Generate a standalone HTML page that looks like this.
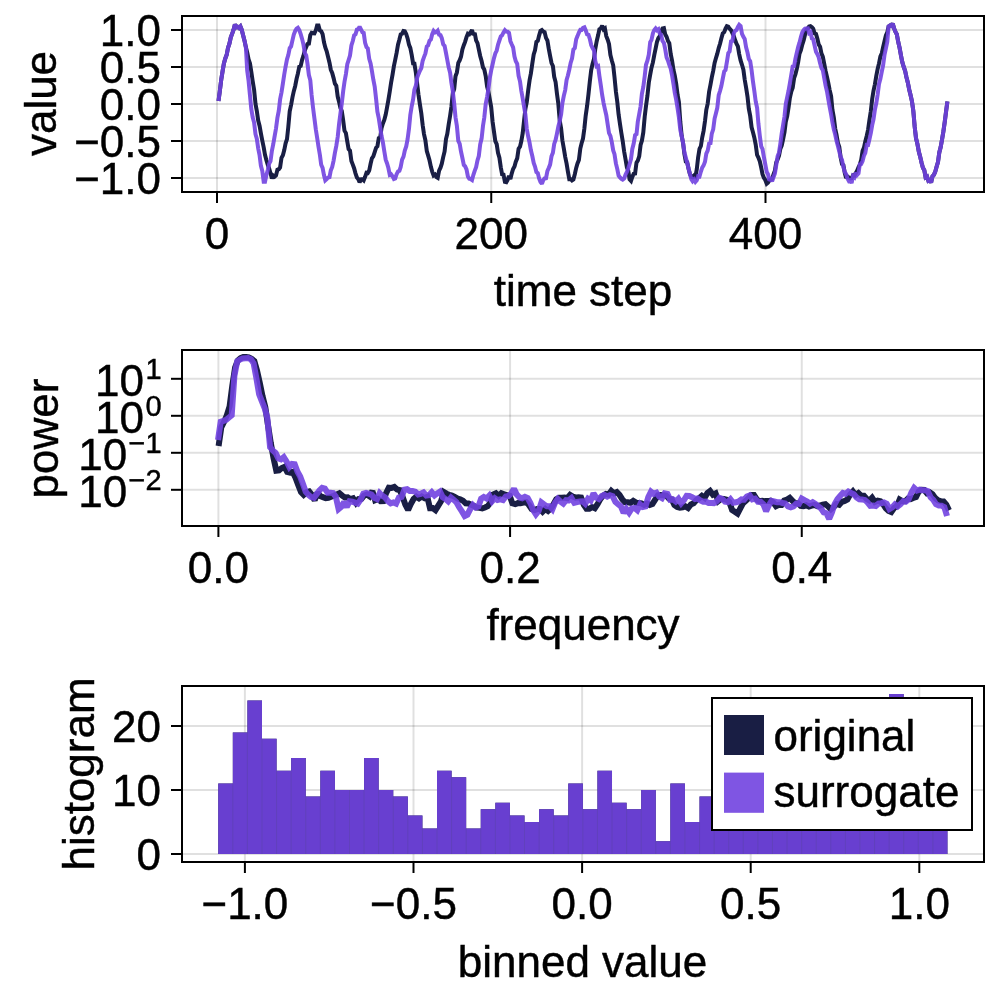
<!DOCTYPE html>
<html><head><meta charset="utf-8"><title>surrogate plot</title>
<style>html,body{margin:0;padding:0;background:#fff}svg{display:block}text{stroke:#000;stroke-width:.45px}</style></head>
<body>
<svg width="1000" height="1000" viewBox="0 0 1000 1000" font-family='"Liberation Sans", sans-serif' fill="#000">
<rect width="1000" height="1000" fill="#fff"/>
<line x1="217" y1="16" x2="217" y2="192" stroke="#000" stroke-opacity="0.12" stroke-width="2"/>
<line x1="491.25" y1="16" x2="491.25" y2="192" stroke="#000" stroke-opacity="0.12" stroke-width="2"/>
<line x1="765.5" y1="16" x2="765.5" y2="192" stroke="#000" stroke-opacity="0.12" stroke-width="2"/>
<line x1="182" y1="30" x2="984" y2="30" stroke="#000" stroke-opacity="0.12" stroke-width="2"/>
<line x1="182" y1="67" x2="984" y2="67" stroke="#000" stroke-opacity="0.12" stroke-width="2"/>
<line x1="182" y1="104" x2="984" y2="104" stroke="#000" stroke-opacity="0.12" stroke-width="2"/>
<line x1="182" y1="141" x2="984" y2="141" stroke="#000" stroke-opacity="0.12" stroke-width="2"/>
<line x1="182" y1="178" x2="984" y2="178" stroke="#000" stroke-opacity="0.12" stroke-width="2"/>
<path d="M218.5,101.1 L219.8,91.2 L221.2,79.9 L222.6,71.1 L223.9,63.4 L225.3,58.5 L226.7,54.8 L228.0,47.9 L229.4,43.6 L230.8,37.4 L232.2,33.6 L233.5,29.9 L234.9,24.4 L236.3,27.4 L237.6,26.8 L239.0,28.0 L240.4,26.5 L241.7,29.7 L243.1,35.2 L244.5,40.7 L245.9,47.3 L247.2,52.4 L248.6,59.3 L250.0,63.4 L251.3,71.8 L252.7,81.2 L254.1,89.8 L255.5,103.9 L256.8,110.8 L258.2,120.6 L259.6,125.9 L260.9,133.4 L262.3,140.7 L263.7,147.3 L265.0,154.8 L266.4,160.3 L267.8,164.8 L269.2,168.7 L270.5,173.2 L271.9,178.5 L273.3,175.6 L274.6,176.7 L276.0,175.4 L277.4,169.7 L278.8,169.2 L280.1,167.5 L281.5,157.8 L282.9,155.3 L284.2,150.3 L285.6,143.3 L287.0,139.1 L288.3,126.9 L289.7,111.3 L291.1,104.8 L292.5,97.2 L293.8,91.1 L295.2,86.0 L296.6,78.8 L297.9,73.5 L299.3,66.7 L300.7,66.0 L302.1,59.8 L303.4,56.0 L304.8,50.5 L306.2,47.1 L307.5,44.0 L308.9,43.6 L310.3,35.1 L311.6,32.8 L313.0,33.2 L314.4,33.3 L315.8,30.4 L317.1,25.6 L318.5,25.6 L319.9,30.5 L321.2,31.2 L322.6,34.2 L324.0,42.3 L325.3,47.5 L326.7,51.3 L328.1,57.0 L329.5,62.7 L330.8,69.7 L332.2,73.0 L333.6,78.1 L334.9,83.6 L336.3,85.8 L337.7,96.6 L339.1,102.1 L340.4,107.8 L341.8,111.1 L343.2,120.6 L344.5,130.7 L345.9,133.1 L347.3,141.6 L348.6,149.1 L350.0,150.7 L351.4,161.1 L352.8,164.6 L354.1,168.2 L355.5,173.3 L356.9,177.4 L358.2,179.0 L359.6,182.3 L361.0,179.4 L362.4,179.2 L363.7,180.4 L365.1,176.8 L366.5,172.8 L367.8,173.0 L369.2,170.6 L370.6,163.8 L371.9,158.3 L373.3,156.4 L374.7,152.2 L376.1,147.7 L377.4,146.4 L378.8,138.2 L380.2,137.5 L381.5,128.2 L382.9,123.5 L384.3,120.0 L385.7,114.6 L387.0,107.7 L388.4,99.8 L389.8,91.2 L391.1,82.6 L392.5,74.9 L393.9,66.2 L395.2,59.9 L396.6,52.9 L398.0,44.7 L399.4,39.6 L400.7,34.4 L402.1,33.7 L403.5,31.0 L404.8,31.2 L406.2,34.0 L407.6,38.4 L409.0,44.7 L410.3,47.9 L411.7,54.9 L413.1,63.4 L414.4,63.6 L415.8,72.2 L417.2,84.0 L418.5,94.7 L419.9,104.4 L421.3,113.2 L422.7,125.2 L424.0,134.1 L425.4,140.4 L426.8,151.0 L428.1,155.4 L429.5,160.3 L430.9,166.9 L432.2,171.6 L433.6,175.5 L435.0,174.6 L436.4,177.0 L437.7,177.8 L439.1,170.6 L440.5,167.7 L441.8,163.7 L443.2,157.1 L444.6,151.4 L446.0,139.1 L447.3,133.8 L448.7,124.3 L450.1,115.7 L451.4,106.8 L452.8,93.1 L454.2,89.0 L455.5,76.2 L456.9,72.4 L458.3,62.9 L459.7,60.3 L461.0,56.8 L462.4,49.4 L463.8,45.2 L465.1,41.9 L466.5,37.1 L467.9,33.7 L469.3,34.3 L470.6,32.3 L472.0,30.0 L473.4,35.0 L474.7,32.9 L476.1,40.4 L477.5,43.2 L478.8,49.3 L480.2,56.0 L481.6,61.0 L483.0,67.4 L484.3,69.5 L485.7,76.0 L487.1,86.6 L488.4,91.5 L489.8,99.3 L491.2,107.1 L492.6,121.8 L493.9,131.1 L495.3,141.1 L496.7,144.1 L498.0,152.7 L499.4,157.6 L500.8,167.3 L502.1,174.3 L503.5,174.6 L504.9,181.9 L506.3,182.2 L507.6,179.9 L509.0,175.9 L510.4,179.1 L511.7,173.6 L513.1,169.0 L514.5,166.5 L515.8,161.7 L517.2,158.4 L518.6,148.7 L520.0,146.7 L521.3,141.3 L522.7,133.1 L524.1,120.2 L525.4,108.8 L526.8,102.0 L528.2,90.3 L529.6,80.2 L530.9,73.4 L532.3,63.6 L533.7,54.5 L535.0,50.3 L536.4,41.9 L537.8,40.9 L539.1,35.6 L540.5,30.8 L541.9,30.0 L543.3,31.5 L544.6,32.1 L546.0,37.9 L547.4,40.5 L548.7,48.4 L550.1,55.8 L551.5,63.0 L552.9,66.0 L554.2,76.8 L555.6,82.1 L557.0,94.0 L558.3,103.5 L559.7,120.3 L561.1,128.4 L562.4,140.5 L563.8,148.4 L565.2,156.8 L566.6,163.6 L567.9,171.6 L569.3,179.2 L570.7,179.2 L572.0,180.5 L573.4,179.6 L574.8,174.3 L576.2,167.9 L577.5,163.5 L578.9,159.9 L580.3,148.5 L581.6,143.2 L583.0,138.5 L584.4,128.2 L585.7,115.6 L587.1,105.9 L588.5,94.1 L589.9,80.8 L591.2,70.1 L592.6,63.7 L594.0,58.8 L595.3,48.8 L596.7,41.2 L598.1,35.3 L599.4,29.2 L600.8,28.4 L602.2,25.6 L603.6,29.3 L604.9,28.4 L606.3,36.1 L607.7,39.7 L609.0,44.0 L610.4,55.0 L611.8,60.5 L613.2,65.3 L614.5,77.1 L615.9,91.5 L617.3,102.1 L618.6,114.4 L620.0,124.1 L621.4,133.2 L622.7,141.1 L624.1,151.3 L625.5,159.2 L626.9,167.4 L628.2,170.6 L629.6,179.4 L631.0,180.9 L632.3,176.8 L633.7,173.8 L635.1,173.6 L636.5,162.6 L637.8,160.6 L639.2,156.4 L640.6,145.0 L641.9,140.7 L643.3,132.4 L644.7,116.8 L646.0,106.0 L647.4,96.1 L648.8,82.7 L650.2,74.6 L651.5,67.7 L652.9,62.4 L654.3,54.8 L655.6,48.6 L657.0,41.7 L658.4,38.0 L659.8,36.1 L661.1,31.7 L662.5,28.4 L663.9,28.1 L665.2,34.2 L666.6,36.7 L668.0,41.0 L669.3,43.1 L670.7,54.0 L672.1,60.9 L673.5,70.0 L674.8,75.6 L676.2,83.7 L677.6,94.9 L678.9,102.1 L680.3,121.8 L681.7,135.9 L683.1,143.2 L684.4,154.0 L685.8,161.5 L687.2,162.1 L688.5,168.5 L689.9,174.1 L691.3,176.8 L692.6,177.2 L694.0,175.7 L695.4,176.6 L696.8,169.1 L698.1,157.5 L699.5,148.9 L700.9,146.0 L702.2,137.5 L703.6,130.9 L705.0,121.1 L706.3,109.9 L707.7,103.6 L709.1,91.7 L710.5,84.6 L711.8,77.3 L713.2,70.9 L714.6,62.9 L715.9,58.3 L717.3,53.7 L718.7,48.1 L720.1,43.5 L721.4,38.2 L722.8,33.4 L724.2,32.1 L725.5,28.7 L726.9,26.2 L728.3,26.6 L729.6,28.7 L731.0,30.2 L732.4,33.2 L733.8,36.0 L735.1,40.0 L736.5,43.7 L737.9,46.3 L739.2,54.1 L740.6,60.4 L742.0,64.8 L743.4,69.7 L744.7,79.5 L746.1,87.6 L747.5,96.6 L748.8,108.7 L750.2,115.9 L751.6,127.3 L752.9,132.0 L754.3,137.4 L755.7,144.5 L757.1,154.9 L758.4,157.5 L759.8,161.4 L761.2,167.5 L762.5,174.2 L763.9,177.9 L765.3,180.0 L766.7,183.7 L768.0,182.6 L769.4,180.5 L770.8,179.7 L772.1,178.9 L773.5,174.4 L774.9,170.6 L776.2,162.6 L777.6,159.4 L779.0,155.7 L780.4,148.7 L781.7,145.6 L783.1,139.2 L784.5,132.3 L785.8,121.8 L787.2,116.2 L788.6,107.2 L789.9,97.7 L791.3,91.5 L792.7,87.8 L794.1,78.1 L795.4,74.3 L796.8,68.9 L798.2,61.8 L799.5,53.8 L800.9,50.1 L802.3,44.5 L803.7,40.3 L805.0,34.8 L806.4,29.6 L807.8,28.3 L809.1,26.5 L810.5,26.1 L811.9,27.1 L813.2,28.8 L814.6,33.3 L816.0,33.9 L817.4,38.8 L818.7,44.4 L820.1,46.8 L821.5,53.6 L822.8,56.6 L824.2,63.6 L825.6,70.9 L827.0,77.0 L828.3,82.9 L829.7,90.1 L831.1,96.0 L832.4,109.6 L833.8,117.2 L835.2,128.6 L836.5,134.6 L837.9,142.9 L839.3,146.9 L840.7,157.7 L842.0,164.2 L843.4,165.2 L844.8,173.0 L846.1,178.0 L847.5,176.5 L848.9,177.6 L850.3,178.5 L851.6,178.3 L853.0,175.4 L854.4,175.7 L855.7,173.3 L857.1,170.8 L858.5,167.2 L859.8,164.6 L861.2,159.7 L862.6,150.9 L864.0,147.4 L865.3,141.5 L866.7,135.9 L868.1,129.6 L869.4,120.2 L870.8,111.2 L872.2,98.9 L873.5,90.8 L874.9,84.3 L876.3,75.9 L877.7,68.7 L879.0,63.4 L880.4,56.4 L881.8,53.2 L883.1,47.1 L884.5,41.2 L885.9,35.5 L887.3,32.4 L888.6,26.4 L890.0,25.5 L891.4,26.0 L892.7,23.5 L894.1,28.4 L895.5,31.9 L896.8,34.2 L898.2,41.8 L899.6,47.9 L901.0,55.7 L902.3,62.2 L903.7,66.8 L905.1,70.7 L906.4,77.0 L907.8,82.4 L909.2,89.5 L910.6,95.2 L911.9,101.0 L913.3,110.7 L914.7,126.9 L916.0,138.1 L917.4,143.9 L918.8,151.5 L920.1,156.4 L921.5,162.5 L922.9,167.8 L924.3,170.2 L925.6,177.3 L927.0,176.5 L928.4,180.9 L929.7,180.4 L931.1,182.5 L932.5,176.3 L933.9,174.9 L935.2,171.9 L936.6,166.7 L938.0,162.0 L939.3,152.5 L940.7,147.0 L942.1,139.1 L943.4,131.4 L944.8,121.5 L946.2,110.4 L947.4,101.4" fill="none" stroke="#191E44" stroke-opacity="1.0" stroke-width="4" stroke-linejoin="miter" stroke-miterlimit="2" stroke-linecap="butt"/>
<path d="M218.5,101.1 L219.8,91.2 L221.2,79.9 L222.6,71.1 L223.9,63.4 L225.3,58.5 L226.7,54.8 L228.0,47.9 L229.4,43.6 L230.8,37.4 L232.2,33.6 L233.5,29.9 L234.9,24.4 L236.3,27.4 L237.6,26.8 L239.0,28.0 L240.4,26.5 L241.7,29.7 L243.1,35.2 L244.5,40.7 L245.9,47.3 L247.2,70.5 L248.6,81.1 L250.0,95.6 L251.3,108.9 L252.7,117.3 L254.1,122.6 L255.5,134.2 L256.8,138.7 L258.2,148.3 L259.6,155.4 L260.9,165.9 L262.3,170.9 L263.7,181.8 L265.0,181.8 L266.4,175.0 L267.8,170.0 L269.2,163.6 L270.5,161.2 L271.9,150.8 L273.3,144.0 L274.6,136.3 L276.0,128.5 L277.4,117.9 L278.8,110.7 L280.1,99.4 L281.5,92.3 L282.9,83.4 L284.2,74.8 L285.6,66.5 L287.0,59.3 L288.3,55.1 L289.7,48.2 L291.1,46.3 L292.5,40.1 L293.8,34.6 L295.2,31.0 L296.6,28.7 L297.9,27.8 L299.3,30.1 L300.7,34.2 L302.1,38.9 L303.4,44.4 L304.8,52.8 L306.2,55.5 L307.5,63.9 L308.9,75.0 L310.3,80.3 L311.6,94.9 L313.0,107.4 L314.4,118.3 L315.8,129.2 L317.1,137.5 L318.5,146.8 L319.9,155.0 L321.2,164.7 L322.6,167.9 L324.0,175.3 L325.3,180.3 L326.7,179.1 L328.1,177.5 L329.5,177.1 L330.8,170.4 L332.2,166.9 L333.6,160.6 L334.9,152.9 L336.3,145.9 L337.7,137.0 L339.1,123.8 L340.4,113.7 L341.8,103.2 L343.2,91.1 L344.5,81.7 L345.9,74.1 L347.3,64.1 L348.6,60.1 L350.0,55.6 L351.4,45.5 L352.8,41.0 L354.1,35.5 L355.5,34.4 L356.9,29.6 L358.2,29.2 L359.6,26.7 L361.0,29.4 L362.4,32.2 L363.7,32.9 L365.1,42.9 L366.5,47.2 L367.8,48.4 L369.2,58.7 L370.6,63.4 L371.9,70.9 L373.3,79.5 L374.7,86.5 L376.1,99.0 L377.4,111.6 L378.8,118.4 L380.2,127.7 L381.5,135.7 L382.9,142.4 L384.3,151.3 L385.7,159.7 L387.0,163.2 L388.4,168.0 L389.8,174.9 L391.1,174.3 L392.5,176.2 L393.9,178.9 L395.2,178.4 L396.6,174.2 L398.0,171.5 L399.4,170.8 L400.7,166.9 L402.1,159.7 L403.5,156.6 L404.8,150.5 L406.2,146.4 L407.6,139.2 L409.0,128.6 L410.3,115.0 L411.7,106.3 L413.1,99.4 L414.4,89.7 L415.8,85.8 L417.2,77.6 L418.5,74.1 L419.9,70.8 L421.3,68.0 L422.7,60.7 L424.0,57.1 L425.4,53.5 L426.8,46.6 L428.1,45.4 L429.5,40.8 L430.9,39.4 L432.2,34.2 L433.6,31.0 L435.0,32.6 L436.4,32.2 L437.7,30.8 L439.1,34.6 L440.5,35.1 L441.8,38.1 L443.2,44.3 L444.6,45.9 L446.0,53.0 L447.3,60.0 L448.7,67.4 L450.1,72.7 L451.4,82.6 L452.8,91.3 L454.2,103.5 L455.5,117.3 L456.9,126.0 L458.3,140.9 L459.7,143.9 L461.0,151.5 L462.4,158.0 L463.8,165.0 L465.1,166.2 L466.5,169.4 L467.9,176.5 L469.3,178.8 L470.6,179.1 L472.0,180.0 L473.4,174.8 L474.7,170.9 L476.1,167.1 L477.5,160.3 L478.8,156.1 L480.2,144.3 L481.6,138.6 L483.0,125.7 L484.3,117.5 L485.7,104.0 L487.1,96.8 L488.4,89.2 L489.8,77.9 L491.2,70.4 L492.6,64.3 L493.9,58.4 L495.3,53.4 L496.7,50.5 L498.0,44.7 L499.4,40.5 L500.8,36.4 L502.1,35.3 L503.5,32.4 L504.9,30.2 L506.3,31.6 L507.6,31.7 L509.0,32.9 L510.4,41.2 L511.7,44.3 L513.1,47.3 L514.5,56.5 L515.8,61.2 L517.2,63.9 L518.6,75.8 L520.0,81.3 L521.3,90.8 L522.7,98.5 L524.1,106.8 L525.4,114.4 L526.8,129.0 L528.2,136.5 L529.6,142.9 L530.9,150.3 L532.3,156.0 L533.7,163.0 L535.0,166.6 L536.4,172.0 L537.8,173.1 L539.1,178.4 L540.5,182.1 L541.9,183.8 L543.3,180.0 L544.6,178.4 L546.0,178.2 L547.4,171.0 L548.7,168.1 L550.1,164.6 L551.5,156.4 L552.9,152.8 L554.2,143.9 L555.6,140.0 L557.0,133.4 L558.3,126.7 L559.7,121.0 L561.1,114.5 L562.4,103.0 L563.8,95.9 L565.2,90.1 L566.6,79.9 L567.9,75.5 L569.3,69.5 L570.7,62.7 L572.0,58.6 L573.4,49.5 L574.8,48.1 L576.2,39.2 L577.5,36.1 L578.9,32.5 L580.3,29.8 L581.6,29.9 L583.0,27.8 L584.4,27.3 L585.7,30.3 L587.1,34.4 L588.5,34.8 L589.9,39.2 L591.2,45.0 L592.6,48.1 L594.0,50.5 L595.3,61.0 L596.7,66.4 L598.1,65.9 L599.4,76.0 L600.8,85.3 L602.2,95.2 L603.6,103.1 L604.9,109.1 L606.3,115.2 L607.7,124.5 L609.0,133.0 L610.4,135.9 L611.8,142.1 L613.2,150.4 L614.5,154.2 L615.9,163.4 L617.3,169.1 L618.6,175.6 L620.0,177.4 L621.4,178.9 L622.7,179.6 L624.1,178.6 L625.5,174.7 L626.9,172.0 L628.2,168.6 L629.6,164.0 L631.0,159.1 L632.3,148.9 L633.7,143.5 L635.1,135.2 L636.5,134.1 L637.8,121.7 L639.2,114.2 L640.6,106.3 L641.9,93.9 L643.3,86.9 L644.7,76.2 L646.0,64.7 L647.4,60.8 L648.8,54.7 L650.2,42.2 L651.5,39.9 L652.9,33.3 L654.3,30.0 L655.6,28.4 L657.0,30.3 L658.4,29.3 L659.8,33.7 L661.1,34.9 L662.5,40.9 L663.9,42.9 L665.2,49.1 L666.6,57.5 L668.0,60.7 L669.3,64.9 L670.7,68.6 L672.1,75.4 L673.5,84.1 L674.8,92.9 L676.2,99.9 L677.6,108.4 L678.9,117.2 L680.3,129.9 L681.7,136.2 L683.1,143.0 L684.4,152.2 L685.8,157.4 L687.2,163.1 L688.5,168.3 L689.9,173.7 L691.3,179.1 L692.6,181.1 L694.0,179.4 L695.4,181.8 L696.8,180.2 L698.1,176.2 L699.5,176.5 L700.9,171.5 L702.2,167.6 L703.6,165.4 L705.0,161.8 L706.3,153.7 L707.7,150.7 L709.1,143.6 L710.5,143.2 L711.8,133.6 L713.2,129.4 L714.6,118.6 L715.9,113.4 L717.3,107.8 L718.7,95.2 L720.1,90.8 L721.4,85.8 L722.8,78.5 L724.2,71.5 L725.5,70.1 L726.9,61.8 L728.3,53.1 L729.6,51.5 L731.0,41.4 L732.4,40.9 L733.8,33.3 L735.1,30.8 L736.5,30.1 L737.9,26.9 L739.2,24.8 L740.6,26.0 L742.0,33.8 L743.4,36.9 L744.7,39.0 L746.1,47.3 L747.5,52.5 L748.8,59.0 L750.2,61.2 L751.6,70.3 L752.9,81.0 L754.3,90.8 L755.7,101.5 L757.1,107.9 L758.4,123.6 L759.8,135.8 L761.2,146.3 L762.5,149.0 L763.9,157.2 L765.3,164.5 L766.7,171.8 L768.0,174.3 L769.4,180.6 L770.8,179.3 L772.1,181.2 L773.5,177.3 L774.9,173.5 L776.2,165.4 L777.6,156.2 L779.0,152.6 L780.4,143.2 L781.7,133.6 L783.1,125.2 L784.5,116.5 L785.8,103.8 L787.2,97.2 L788.6,90.5 L789.9,83.2 L791.3,74.9 L792.7,66.3 L794.1,66.0 L795.4,58.9 L796.8,52.8 L798.2,46.9 L799.5,42.7 L800.9,37.0 L802.3,32.3 L803.7,30.0 L805.0,28.7 L806.4,28.4 L807.8,28.3 L809.1,33.0 L810.5,32.1 L811.9,38.5 L813.2,39.3 L814.6,45.6 L816.0,51.7 L817.4,54.2 L818.7,57.3 L820.1,63.3 L821.5,68.1 L822.8,70.0 L824.2,77.9 L825.6,85.7 L827.0,91.4 L828.3,99.2 L829.7,107.1 L831.1,114.4 L832.4,122.2 L833.8,129.2 L835.2,134.6 L836.5,140.9 L837.9,145.9 L839.3,151.4 L840.7,157.2 L842.0,159.8 L843.4,167.1 L844.8,172.0 L846.1,174.1 L847.5,178.4 L848.9,181.0 L850.3,180.3 L851.6,183.2 L853.0,176.2 L854.4,177.3 L855.7,172.7 L857.1,174.9 L858.5,173.4 L859.8,164.3 L861.2,164.0 L862.6,161.0 L864.0,155.6 L865.3,152.9 L866.7,144.8 L868.1,144.9 L869.4,139.6 L870.8,133.2 L872.2,125.1 L873.5,119.5 L874.9,109.7 L876.3,103.2 L877.7,94.2 L879.0,84.0 L880.4,78.8 L881.8,71.5 L883.1,65.4 L884.5,54.9 L885.9,48.4 L887.3,41.8 L888.6,26.4 L890.0,25.5 L891.4,26.0 L892.7,23.5 L894.1,28.4 L895.5,31.9 L896.8,34.2 L898.2,41.8 L899.6,47.9 L901.0,55.7 L902.3,62.2 L903.7,66.8 L905.1,70.7 L906.4,77.0 L907.8,82.4 L909.2,89.5 L910.6,95.2 L911.9,101.0 L913.3,110.7 L914.7,126.9 L916.0,138.1 L917.4,143.9 L918.8,151.5 L920.1,156.4 L921.5,162.5 L922.9,167.8 L924.3,170.2 L925.6,177.3 L927.0,176.5 L928.4,180.9 L929.7,180.4 L931.1,182.5 L932.5,176.3 L933.9,174.9 L935.2,171.9 L936.6,166.7 L938.0,162.0 L939.3,152.5 L940.7,147.0 L942.1,139.1 L943.4,131.4 L944.8,121.5 L946.2,110.4 L947.4,101.4" fill="none" stroke="#7143E0" stroke-opacity="0.9" stroke-width="4" stroke-linejoin="miter" stroke-miterlimit="2" stroke-linecap="butt"/>
<rect x="182" y="16" width="802" height="176" fill="none" stroke="#000" stroke-width="2"/>
<line x1="217" y1="193" x2="217" y2="203" stroke="#000" stroke-width="2"/>
<line x1="491.25" y1="193" x2="491.25" y2="203" stroke="#000" stroke-width="2"/>
<line x1="765.5" y1="193" x2="765.5" y2="203" stroke="#000" stroke-width="2"/>
<line x1="171" y1="30" x2="181" y2="30" stroke="#000" stroke-width="2"/>
<line x1="171" y1="67" x2="181" y2="67" stroke="#000" stroke-width="2"/>
<line x1="171" y1="104" x2="181" y2="104" stroke="#000" stroke-width="2"/>
<line x1="171" y1="141" x2="181" y2="141" stroke="#000" stroke-width="2"/>
<line x1="171" y1="178" x2="181" y2="178" stroke="#000" stroke-width="2"/>
<text x="217" y="249.3" text-anchor="middle" font-size="44" >0</text>
<text x="491.25" y="249.3" text-anchor="middle" font-size="44" >200</text>
<text x="765.5" y="249.3" text-anchor="middle" font-size="44" >400</text>
<text x="161" y="46.2" text-anchor="end" font-size="44" >1.0</text>
<text x="161" y="83.2" text-anchor="end" font-size="44" >0.5</text>
<text x="161" y="120.2" text-anchor="end" font-size="44" >0.0</text>
<text x="161" y="157.2" text-anchor="end" font-size="44" >−0.5</text>
<text x="161" y="194.2" text-anchor="end" font-size="44" >−1.0</text>
<text x="583" y="306" text-anchor="middle" font-size="44" >time step</text>
<text transform="translate(55.5,103.5) rotate(-90)" text-anchor="middle" font-size="44">value</text>
<line x1="218.4" y1="350" x2="218.4" y2="526" stroke="#000" stroke-opacity="0.12" stroke-width="2"/>
<line x1="510.08000000000004" y1="350" x2="510.08000000000004" y2="526" stroke="#000" stroke-opacity="0.12" stroke-width="2"/>
<line x1="801.76" y1="350" x2="801.76" y2="526" stroke="#000" stroke-opacity="0.12" stroke-width="2"/>
<line x1="182" y1="378.8" x2="984" y2="378.8" stroke="#000" stroke-opacity="0.12" stroke-width="2"/>
<line x1="182" y1="415.8" x2="984" y2="415.8" stroke="#000" stroke-opacity="0.12" stroke-width="2"/>
<line x1="182" y1="452.8" x2="984" y2="452.8" stroke="#000" stroke-opacity="0.12" stroke-width="2"/>
<line x1="182" y1="489.8" x2="984" y2="489.8" stroke="#000" stroke-opacity="0.12" stroke-width="2"/>
<path d="M218.6,446.0 L221.3,427.3 L224.1,421.8 L226.8,415.3 L229.6,406.4 L232.3,385.6 L235.1,367.5 L237.8,360.5 L240.6,358.2 L243.3,357.0 L246.1,357.0 L248.8,357.4 L251.6,358.8 L254.3,361.0 L257.0,370.6 L259.8,382.9 L262.5,396.1 L265.3,407.1 L268.0,425.2 L270.8,443.1 L273.5,457.8 L276.3,470.7 L279.0,470.4 L281.8,468.0 L284.5,466.8 L287.2,472.0 L290.0,472.7 L292.7,471.9 L295.5,477.8 L298.2,485.0 L301.0,492.1 L303.7,494.8 L306.5,492.3 L309.2,491.5 L312.0,494.9 L314.7,500.3 L317.5,492.4 L320.2,496.1 L322.9,497.1 L325.7,498.2 L328.4,497.8 L331.2,496.7 L333.9,495.7 L336.7,494.4 L339.4,493.3 L342.2,495.6 L344.9,497.5 L347.7,497.3 L350.4,499.2 L353.1,498.3 L355.9,502.7 L358.6,499.1 L361.4,498.8 L364.1,495.5 L366.9,494.5 L369.6,496.3 L372.4,491.0 L375.1,500.2 L377.9,499.0 L380.6,501.3 L383.4,501.2 L386.1,493.1 L388.8,487.6 L391.6,487.9 L394.3,487.0 L397.1,489.5 L399.8,490.1 L402.6,496.8 L405.3,504.6 L408.1,509.9 L410.8,504.0 L413.6,499.0 L416.3,496.7 L419.0,498.4 L421.8,496.6 L424.5,498.1 L427.3,496.9 L430.0,508.2 L432.8,508.1 L435.5,510.2 L438.3,505.7 L441.0,501.3 L443.8,492.1 L446.5,493.7 L449.3,494.8 L452.0,495.6 L454.7,496.8 L457.5,498.6 L460.2,499.4 L463.0,500.7 L465.7,503.3 L468.5,503.5 L471.2,504.8 L474.0,505.9 L476.7,507.5 L479.5,507.9 L482.2,508.5 L484.9,507.5 L487.7,506.2 L490.4,502.4 L493.2,494.5 L495.9,493.3 L498.7,495.9 L501.4,493.3 L504.2,494.3 L506.9,495.2 L509.7,495.8 L512.4,503.4 L515.2,504.2 L517.9,503.1 L520.6,503.2 L523.4,502.6 L526.1,502.2 L528.9,505.0 L531.6,509.0 L534.4,510.1 L537.1,509.1 L539.9,509.0 L542.6,511.8 L545.4,509.0 L548.1,510.9 L550.8,508.6 L553.6,504.0 L556.3,499.3 L559.1,497.7 L561.8,497.8 L564.6,497.5 L567.3,498.2 L570.1,494.9 L572.8,496.5 L575.6,497.6 L578.3,497.2 L581.1,497.5 L583.8,504.8 L586.5,508.7 L589.3,508.8 L592.0,507.1 L594.8,508.3 L597.5,504.3 L600.3,499.1 L603.0,495.7 L605.8,494.0 L608.5,494.7 L611.3,490.9 L614.0,493.2 L616.8,492.1 L619.5,494.9 L622.2,499.2 L625.0,502.2 L627.7,502.3 L630.5,502.8 L633.2,500.8 L636.0,502.6 L638.7,503.0 L641.5,503.3 L644.2,504.8 L647.0,503.6 L649.7,505.0 L652.4,504.1 L655.2,499.6 L657.9,495.3 L660.7,495.1 L663.4,495.2 L666.2,495.6 L668.9,498.6 L671.7,499.3 L674.4,505.0 L677.2,507.0 L679.9,507.7 L682.7,507.4 L685.4,506.4 L688.1,508.0 L690.9,504.4 L693.6,503.3 L696.4,500.0 L699.1,498.3 L701.9,495.8 L704.6,497.8 L707.4,493.0 L710.1,491.0 L712.9,494.7 L715.6,493.4 L718.3,501.0 L721.1,498.8 L723.8,499.0 L726.6,499.8 L729.3,502.0 L732.1,510.0 L734.8,511.7 L737.6,513.6 L740.3,508.4 L743.1,503.2 L745.8,500.9 L748.6,498.2 L751.3,494.9 L754.0,494.9 L756.8,499.4 L759.5,501.3 L762.3,500.7 L765.0,501.1 L767.8,501.1 L770.5,500.7 L773.3,502.5 L776.0,506.2 L778.8,504.8 L781.5,504.9 L784.2,500.4 L787.0,499.5 L789.7,497.9 L792.5,500.9 L795.2,503.2 L798.0,503.2 L800.7,505.9 L803.5,506.2 L806.2,505.3 L809.0,506.5 L811.7,505.7 L814.5,505.0 L817.2,506.1 L819.9,505.5 L822.7,504.6 L825.4,504.1 L828.2,506.6 L830.9,509.2 L833.7,507.0 L836.4,503.9 L839.2,504.8 L841.9,501.8 L844.7,500.9 L847.4,499.5 L850.1,494.5 L852.9,491.4 L855.6,495.0 L858.4,493.1 L861.1,495.7 L863.9,495.8 L866.6,498.8 L869.4,500.5 L872.1,497.7 L874.9,501.9 L877.6,500.6 L880.4,501.3 L883.1,504.2 L885.8,508.3 L888.6,510.9 L891.3,512.0 L894.1,508.0 L896.8,506.3 L899.6,499.6 L902.3,501.2 L905.1,501.3 L907.8,498.7 L910.6,499.1 L913.3,498.0 L916.0,497.1 L918.8,491.4 L921.5,489.9 L924.3,490.0 L927.0,493.3 L929.8,492.4 L932.5,494.1 L935.3,498.1 L938.0,500.4 L940.8,501.2 L943.5,501.4 L946.3,504.7 L949.0,510.4" fill="none" stroke="#191E44" stroke-opacity="1.0" stroke-width="6" stroke-linejoin="miter" stroke-miterlimit="2" stroke-linecap="butt"/>
<path d="M218.0,440.0 L220.7,421.8 L223.5,420.8 L226.2,419.8 L229.0,417.5 L231.7,415.2 L234.4,376.0 L237.2,361.3 L239.9,359.6 L242.7,358.4 L245.4,358.2 L248.1,358.1 L250.9,359.2 L253.6,363.3 L256.4,378.2 L259.1,394.3 L261.8,401.1 L264.6,408.0 L267.3,417.7 L270.1,447.2 L272.8,450.4 L275.6,452.9 L278.3,458.3 L281.0,459.4 L283.8,457.2 L286.5,461.4 L289.3,466.9 L292.0,463.9 L294.7,464.3 L297.5,471.7 L300.2,476.6 L303.0,484.1 L305.7,491.8 L308.4,494.9 L311.2,497.1 L313.9,497.9 L316.7,494.1 L319.4,490.4 L322.1,487.9 L324.9,488.6 L327.6,492.8 L330.4,492.7 L333.1,493.1 L335.8,496.6 L338.6,509.1 L341.3,506.8 L344.1,502.0 L346.8,507.0 L349.5,501.2 L352.3,501.6 L355.0,502.6 L357.8,503.6 L360.5,499.7 L363.3,493.7 L366.0,492.8 L368.7,493.7 L371.5,494.6 L374.2,497.9 L377.0,499.1 L379.7,493.2 L382.4,495.8 L385.2,497.6 L387.9,501.1 L390.7,503.4 L393.4,502.5 L396.1,503.6 L398.9,497.6 L401.6,497.0 L404.4,489.7 L407.1,489.2 L409.8,491.0 L412.6,491.0 L415.3,491.7 L418.1,494.4 L420.8,493.8 L423.5,492.5 L426.3,495.6 L429.0,495.2 L431.8,492.3 L434.5,495.4 L437.2,493.4 L440.0,491.6 L442.7,497.1 L445.5,499.0 L448.2,501.3 L451.0,497.5 L453.7,499.8 L456.4,502.2 L459.2,507.3 L461.9,511.4 L464.7,516.0 L467.4,514.7 L470.1,509.3 L472.9,505.0 L475.6,507.5 L478.4,506.5 L481.1,498.7 L483.8,496.9 L486.6,498.5 L489.3,495.6 L492.1,501.2 L494.8,498.2 L497.5,500.0 L500.3,499.4 L503.0,500.1 L505.8,496.5 L508.5,496.0 L511.2,493.5 L514.0,488.8 L516.7,494.4 L519.5,497.3 L522.2,498.2 L524.9,496.8 L527.7,498.0 L530.4,503.0 L533.2,510.1 L535.9,514.3 L538.7,510.7 L541.4,502.5 L544.1,504.5 L546.9,506.3 L549.6,506.2 L552.4,509.3 L555.1,502.7 L557.8,499.0 L560.6,501.7 L563.3,503.6 L566.1,500.2 L568.8,500.4 L571.5,498.1 L574.3,502.7 L577.0,502.0 L579.8,501.5 L582.5,501.3 L585.2,503.7 L588.0,498.8 L590.7,500.5 L593.5,493.4 L596.2,497.6 L598.9,499.0 L601.7,496.1 L604.4,494.9 L607.2,496.5 L609.9,495.2 L612.6,496.2 L615.4,501.9 L618.1,504.2 L620.9,506.4 L623.6,512.7 L626.3,508.9 L629.1,512.7 L631.8,508.4 L634.6,508.0 L637.3,510.3 L640.1,504.4 L642.8,507.0 L645.5,506.5 L648.3,497.1 L651.0,491.7 L653.8,494.0 L656.5,492.8 L659.2,496.5 L662.0,498.1 L664.7,493.4 L667.5,493.9 L670.2,499.7 L672.9,499.4 L675.7,501.5 L678.4,498.8 L681.2,503.3 L683.9,500.3 L686.6,495.8 L689.4,496.0 L692.1,497.1 L694.9,499.0 L697.6,498.5 L700.3,500.4 L703.1,501.7 L705.8,501.5 L708.6,503.0 L711.3,502.9 L714.0,503.1 L716.8,501.3 L719.5,497.9 L722.3,499.0 L725.0,501.7 L727.8,502.1 L730.5,499.3 L733.2,502.8 L736.0,502.3 L738.7,501.5 L741.5,499.4 L744.2,499.7 L746.9,496.4 L749.7,495.3 L752.4,499.3 L755.2,498.6 L757.9,501.7 L760.6,501.7 L763.4,504.3 L766.1,511.1 L768.9,505.3 L771.6,500.9 L774.3,501.5 L777.1,502.2 L779.8,502.2 L782.6,503.0 L785.3,503.5 L788.0,506.3 L790.8,507.3 L793.5,506.4 L796.3,503.6 L799.0,503.9 L801.7,498.6 L804.5,500.2 L807.2,501.5 L810.0,503.7 L812.7,502.2 L815.5,503.9 L818.2,506.2 L820.9,508.4 L823.7,512.5 L826.4,513.2 L829.2,518.8 L831.9,512.5 L834.6,504.2 L837.4,499.2 L840.1,496.0 L842.9,492.9 L845.6,493.8 L848.3,491.6 L851.1,493.0 L853.8,494.2 L856.6,497.4 L859.3,499.2 L862.0,499.4 L864.8,500.0 L867.5,502.3 L870.3,505.9 L873.0,505.6 L875.7,506.0 L878.5,503.6 L881.2,503.2 L884.0,502.4 L886.7,503.7 L889.4,509.1 L892.2,507.5 L894.9,504.4 L897.7,506.4 L900.4,504.2 L903.2,501.2 L905.9,501.6 L908.6,499.4 L911.4,492.5 L914.1,488.0 L916.9,490.5 L919.6,489.6 L922.3,490.2 L925.1,490.3 L927.8,491.2 L930.6,497.3 L933.3,499.9 L936.0,504.2 L938.8,505.5 L941.5,505.6 L944.3,507.1 L947.0,516.0" fill="none" stroke="#7143E0" stroke-opacity="0.9" stroke-width="6" stroke-linejoin="miter" stroke-miterlimit="2" stroke-linecap="butt"/>
<rect x="182" y="350" width="802" height="176" fill="none" stroke="#000" stroke-width="2"/>
<line x1="218.4" y1="527" x2="218.4" y2="537" stroke="#000" stroke-width="2"/>
<line x1="510.08000000000004" y1="527" x2="510.08000000000004" y2="537" stroke="#000" stroke-width="2"/>
<line x1="801.76" y1="527" x2="801.76" y2="537" stroke="#000" stroke-width="2"/>
<line x1="171" y1="378.8" x2="181" y2="378.8" stroke="#000" stroke-width="2"/>
<line x1="171" y1="415.8" x2="181" y2="415.8" stroke="#000" stroke-width="2"/>
<line x1="171" y1="452.8" x2="181" y2="452.8" stroke="#000" stroke-width="2"/>
<line x1="171" y1="489.8" x2="181" y2="489.8" stroke="#000" stroke-width="2"/>
<text x="218.4" y="583.2" text-anchor="middle" font-size="44" >0.0</text>
<text x="510.08000000000004" y="583.2" text-anchor="middle" font-size="44" >0.2</text>
<text x="801.76" y="583.2" text-anchor="middle" font-size="44" >0.4</text>
<text x="161.7" y="396.3" text-anchor="end" font-size="44">10<tspan dx="1.5" dy="-17" font-size="29.0">1</tspan></text>
<text x="161.7" y="433.3" text-anchor="end" font-size="44">10<tspan dx="1.5" dy="-17" font-size="29.0">0</tspan></text>
<text x="161.7" y="470.3" text-anchor="end" font-size="44">10<tspan dx="1.5" dy="-17" font-size="29.0">−1</tspan></text>
<text x="161.7" y="507.3" text-anchor="end" font-size="44">10<tspan dx="1.5" dy="-17" font-size="29.0">−2</tspan></text>
<text x="583" y="640" text-anchor="middle" font-size="44" >frequency</text>
<text transform="translate(58,438.5) rotate(-90)" text-anchor="middle" font-size="44">power</text>
<line x1="244.9" y1="686" x2="244.9" y2="862" stroke="#000" stroke-opacity="0.12" stroke-width="2"/>
<line x1="413.5" y1="686" x2="413.5" y2="862" stroke="#000" stroke-opacity="0.12" stroke-width="2"/>
<line x1="582.1" y1="686" x2="582.1" y2="862" stroke="#000" stroke-opacity="0.12" stroke-width="2"/>
<line x1="750.7" y1="686" x2="750.7" y2="862" stroke="#000" stroke-opacity="0.12" stroke-width="2"/>
<line x1="919.3" y1="686" x2="919.3" y2="862" stroke="#000" stroke-opacity="0.12" stroke-width="2"/>
<line x1="182" y1="726" x2="984" y2="726" stroke="#000" stroke-opacity="0.12" stroke-width="2"/>
<line x1="182" y1="790" x2="984" y2="790" stroke="#000" stroke-opacity="0.12" stroke-width="2"/>
<line x1="182" y1="854" x2="984" y2="854" stroke="#000" stroke-opacity="0.12" stroke-width="2"/>
<path d="M218.25,854h14.58v-70.40h-14.58zM232.83,854h14.58v-121.60h-14.58zM247.42,854h14.58v-153.60h-14.58zM262.00,854h14.58v-115.20h-14.58zM276.59,854h14.58v-83.20h-14.58zM291.17,854h14.58v-96.00h-14.58zM305.75,854h14.58v-57.60h-14.58zM320.34,854h14.58v-83.20h-14.58zM334.92,854h14.58v-64.00h-14.58zM349.51,854h14.58v-64.00h-14.58zM364.09,854h14.58v-96.00h-14.58zM378.67,854h14.58v-64.00h-14.58zM393.26,854h14.58v-57.60h-14.58zM407.84,854h14.58v-38.40h-14.58zM422.43,854h14.58v-25.60h-14.58zM437.01,854h14.58v-83.20h-14.58zM451.59,854h14.58v-76.80h-14.58zM466.18,854h14.58v-25.60h-14.58zM480.76,854h14.58v-44.80h-14.58zM495.35,854h14.58v-51.20h-14.58zM509.93,854h14.58v-38.40h-14.58zM524.51,854h14.58v-32.00h-14.58zM539.10,854h14.58v-44.80h-14.58zM553.68,854h14.58v-38.40h-14.58zM568.27,854h14.58v-70.40h-14.58zM582.85,854h14.58v-44.80h-14.58zM597.43,854h14.58v-83.20h-14.58zM612.02,854h14.58v-51.20h-14.58zM626.60,854h14.58v-44.80h-14.58zM641.19,854h14.58v-64.00h-14.58zM655.77,854h14.58v-12.80h-14.58zM670.35,854h14.58v-70.40h-14.58zM684.94,854h14.58v-32.00h-14.58zM699.52,854h14.58v-57.60h-14.58zM714.11,854h14.58v-76.80h-14.58zM728.69,854h14.58v-51.20h-14.58zM743.27,854h14.58v-44.80h-14.58zM757.86,854h14.58v-57.60h-14.58zM772.44,854h14.58v-64.00h-14.58zM787.03,854h14.58v-76.80h-14.58zM801.61,854h14.58v-57.60h-14.58zM816.19,854h14.58v-70.40h-14.58zM830.78,854h14.58v-83.20h-14.58zM845.36,854h14.58v-96.00h-14.58zM859.95,854h14.58v-89.60h-14.58zM874.53,854h14.58v-102.40h-14.58zM889.11,854h14.58v-160.00h-14.58zM903.70,854h14.58v-134.40h-14.58zM918.28,854h14.58v-89.60h-14.58zM932.87,854h14.58v-57.60h-14.58z" fill="#191E44" fill-opacity="1.0"/>
<path d="M218.25,854h14.58v-70.40h-14.58zM232.83,854h14.58v-121.60h-14.58zM247.42,854h14.58v-153.60h-14.58zM262.00,854h14.58v-115.20h-14.58zM276.59,854h14.58v-83.20h-14.58zM291.17,854h14.58v-96.00h-14.58zM305.75,854h14.58v-57.60h-14.58zM320.34,854h14.58v-83.20h-14.58zM334.92,854h14.58v-64.00h-14.58zM349.51,854h14.58v-64.00h-14.58zM364.09,854h14.58v-96.00h-14.58zM378.67,854h14.58v-64.00h-14.58zM393.26,854h14.58v-57.60h-14.58zM407.84,854h14.58v-38.40h-14.58zM422.43,854h14.58v-25.60h-14.58zM437.01,854h14.58v-83.20h-14.58zM451.59,854h14.58v-76.80h-14.58zM466.18,854h14.58v-25.60h-14.58zM480.76,854h14.58v-44.80h-14.58zM495.35,854h14.58v-51.20h-14.58zM509.93,854h14.58v-38.40h-14.58zM524.51,854h14.58v-32.00h-14.58zM539.10,854h14.58v-44.80h-14.58zM553.68,854h14.58v-38.40h-14.58zM568.27,854h14.58v-70.40h-14.58zM582.85,854h14.58v-44.80h-14.58zM597.43,854h14.58v-83.20h-14.58zM612.02,854h14.58v-51.20h-14.58zM626.60,854h14.58v-44.80h-14.58zM641.19,854h14.58v-64.00h-14.58zM655.77,854h14.58v-12.80h-14.58zM670.35,854h14.58v-70.40h-14.58zM684.94,854h14.58v-32.00h-14.58zM699.52,854h14.58v-57.60h-14.58zM714.11,854h14.58v-76.80h-14.58zM728.69,854h14.58v-51.20h-14.58zM743.27,854h14.58v-44.80h-14.58zM757.86,854h14.58v-57.60h-14.58zM772.44,854h14.58v-64.00h-14.58zM787.03,854h14.58v-76.80h-14.58zM801.61,854h14.58v-57.60h-14.58zM816.19,854h14.58v-70.40h-14.58zM830.78,854h14.58v-83.20h-14.58zM845.36,854h14.58v-96.00h-14.58zM859.95,854h14.58v-89.60h-14.58zM874.53,854h14.58v-102.40h-14.58zM889.11,854h14.58v-160.00h-14.58zM903.70,854h14.58v-134.40h-14.58zM918.28,854h14.58v-89.60h-14.58zM932.87,854h14.58v-57.60h-14.58z" fill="#7143E0" fill-opacity="0.9"/>
<path d="M232.83,854v-70.40M247.42,854v-121.60M262.00,854v-115.20M276.59,854v-83.20M291.17,854v-83.20M305.75,854v-57.60M320.34,854v-57.60M334.92,854v-64.00M349.51,854v-64.00M364.09,854v-64.00M378.67,854v-64.00M393.26,854v-57.60M407.84,854v-38.40M422.43,854v-25.60M437.01,854v-25.60M451.59,854v-76.80M466.18,854v-25.60M480.76,854v-25.60M495.35,854v-44.80M509.93,854v-38.40M524.51,854v-32.00M539.10,854v-32.00M553.68,854v-38.40M568.27,854v-38.40M582.85,854v-44.80M597.43,854v-44.80M612.02,854v-51.20M626.60,854v-44.80M641.19,854v-44.80M655.77,854v-12.80M670.35,854v-12.80M684.94,854v-32.00M699.52,854v-32.00M714.11,854v-57.60M728.69,854v-51.20M743.27,854v-44.80M757.86,854v-44.80M772.44,854v-57.60M787.03,854v-64.00M801.61,854v-57.60M816.19,854v-57.60M830.78,854v-70.40M845.36,854v-83.20M859.95,854v-89.60M874.53,854v-89.60M889.11,854v-102.40M903.70,854v-134.40M918.28,854v-89.60M932.87,854v-57.60" stroke="#4a4a78" stroke-opacity="0.22" stroke-width="1" fill="none"/>
<rect x="182" y="686" width="802" height="176" fill="none" stroke="#000" stroke-width="2"/>
<line x1="244.9" y1="863" x2="244.9" y2="873" stroke="#000" stroke-width="2"/>
<line x1="413.5" y1="863" x2="413.5" y2="873" stroke="#000" stroke-width="2"/>
<line x1="582.1" y1="863" x2="582.1" y2="873" stroke="#000" stroke-width="2"/>
<line x1="750.7" y1="863" x2="750.7" y2="873" stroke="#000" stroke-width="2"/>
<line x1="919.3" y1="863" x2="919.3" y2="873" stroke="#000" stroke-width="2"/>
<line x1="171" y1="726" x2="181" y2="726" stroke="#000" stroke-width="2"/>
<line x1="171" y1="790" x2="181" y2="790" stroke="#000" stroke-width="2"/>
<line x1="171" y1="854" x2="181" y2="854" stroke="#000" stroke-width="2"/>
<text x="244.9" y="919.3" text-anchor="middle" font-size="44" >−1.0</text>
<text x="413.5" y="919.3" text-anchor="middle" font-size="44" >−0.5</text>
<text x="582.1" y="919.3" text-anchor="middle" font-size="44" >0.0</text>
<text x="750.7" y="919.3" text-anchor="middle" font-size="44" >0.5</text>
<text x="919.3" y="919.3" text-anchor="middle" font-size="44" >1.0</text>
<text x="161" y="742.2" text-anchor="end" font-size="44" >20</text>
<text x="161" y="806.2" text-anchor="end" font-size="44" >10</text>
<text x="161" y="870.2" text-anchor="end" font-size="44" >0</text>
<text x="582.5" y="976.8" text-anchor="middle" font-size="44" >binned value</text>
<text transform="translate(93.5,774) rotate(-90)" text-anchor="middle" font-size="44">histogram</text>
<rect x="712" y="698" width="260" height="132" fill="#fff" stroke="#000" stroke-width="2"/>
<rect x="724" y="715" width="40" height="40" fill="#191E44"/>
<rect x="724" y="772.6" width="40" height="40.2" fill="#7143E0" fill-opacity="0.9"/>
<text x="773.5" y="751" text-anchor="start" font-size="44" >original</text>
<text x="773.5" y="807" text-anchor="start" font-size="44" >surrogate</text>
</svg>
</body></html>
